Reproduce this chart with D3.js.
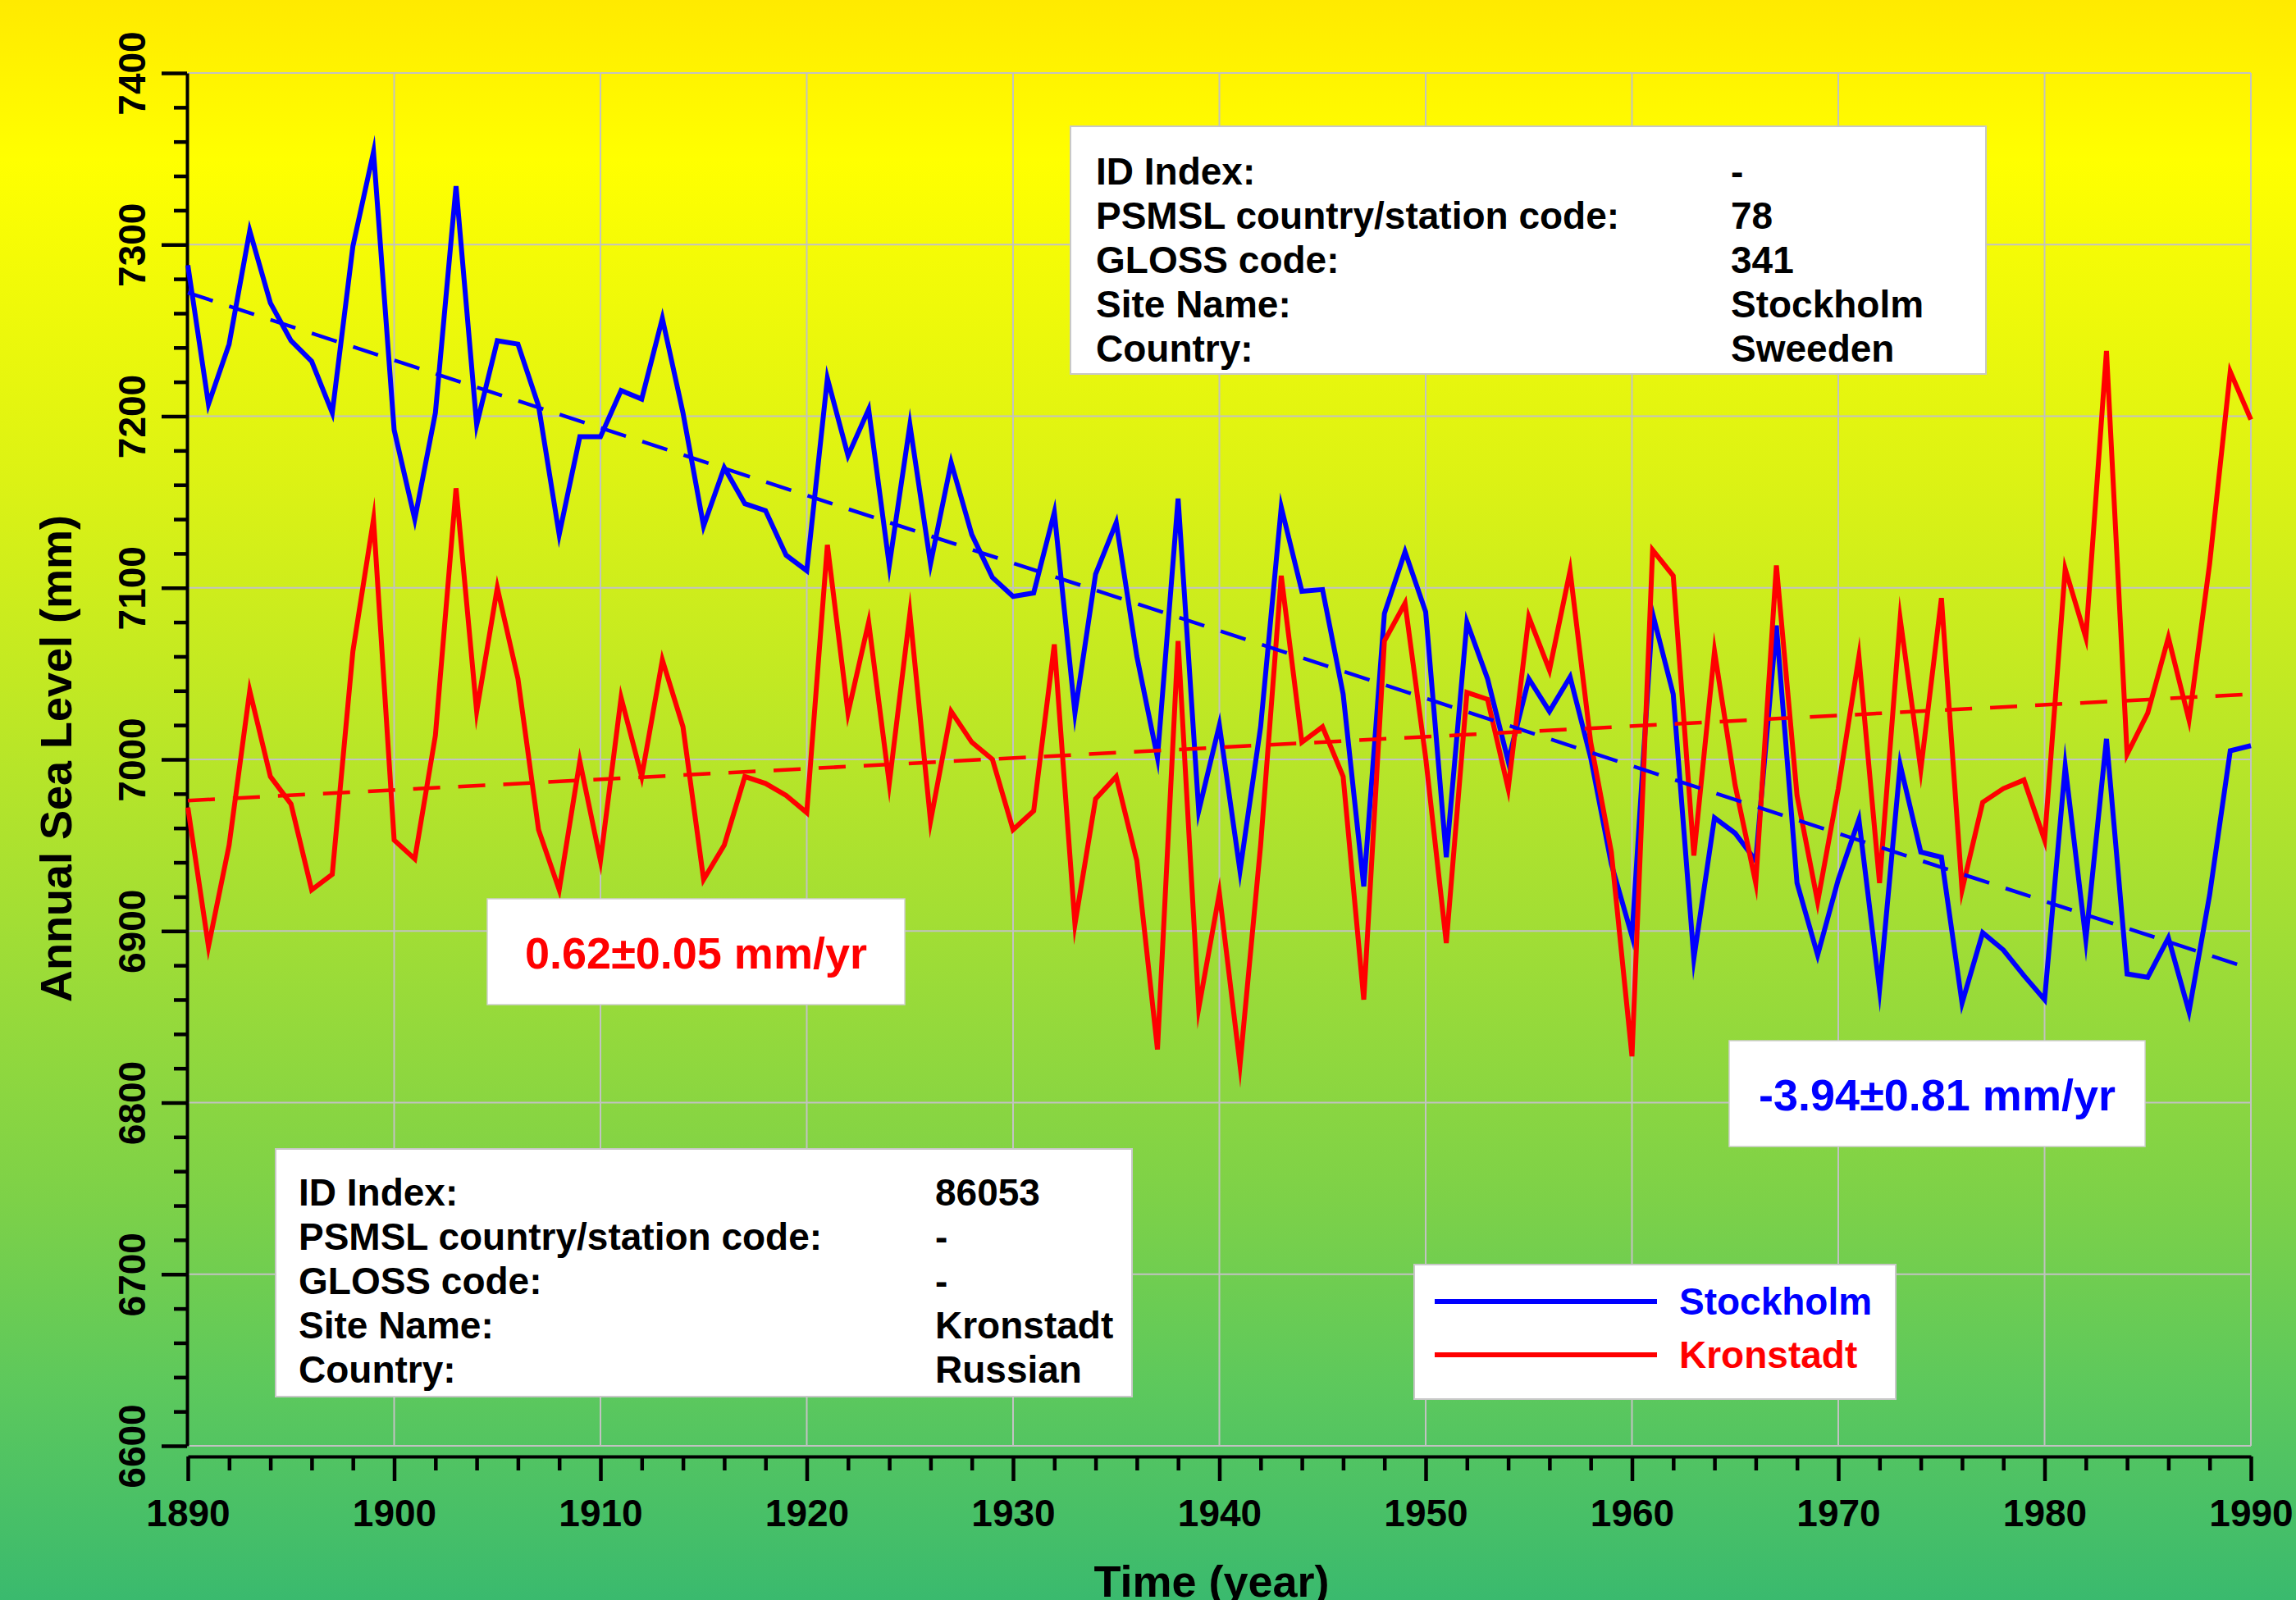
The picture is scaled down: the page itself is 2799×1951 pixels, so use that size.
<!DOCTYPE html>
<html>
<head>
<meta charset="utf-8">
<script src="https://cdn.jsdelivr.net/npm/d3@7"></script>
<style>
  html, body { margin: 0; padding: 0; }
  svg { display: block; font-family: "Liberation Sans", Arial, sans-serif; font-weight: bold; }
</style>
</head>
<body>
<div id="chart"></div>
<script>
// ---- data ----
var years = [
  1890, 1891, 1892, 1893, 1894, 1895, 1896, 1897, 1898, 1899,
  1900, 1901, 1902, 1903, 1904, 1905, 1906, 1907, 1908, 1909,
  1910, 1911, 1912, 1913, 1914, 1915, 1916, 1917, 1918, 1919,
  1920, 1921, 1922, 1923, 1924, 1925, 1926, 1927, 1928, 1929,
  1930, 1931, 1932, 1933, 1934, 1935, 1936, 1937, 1938, 1939,
  1940, 1941, 1942, 1943, 1944, 1945, 1946, 1947, 1948, 1949,
  1950, 1951, 1952, 1953, 1954, 1955, 1956, 1957, 1958, 1959,
  1960, 1961, 1962, 1963, 1964, 1965, 1966, 1967, 1968, 1969,
  1970, 1971, 1972, 1973, 1974, 1975, 1976, 1977, 1978, 1979,
  1980, 1981, 1982, 1983, 1984, 1985, 1986, 1987, 1988, 1989,
  1990
];

var stockholm = [
  7288, 7207, 7242, 7308, 7266, 7244, 7232, 7202, 7299, 7354,
  7192, 7140, 7202, 7334, 7195, 7244, 7242, 7206, 7131, 7188,
  7188, 7215, 7210, 7257, 7202, 7136, 7170, 7149, 7145, 7119,
  7110, 7222, 7177, 7204, 7113, 7195, 7114, 7173, 7131, 7106,
  7095, 7097, 7144, 7027, 7108, 7138, 7060, 7001, 7152, 6970,
  7020, 6935, 7019, 7147, 7098, 7099, 7038, 6926, 7085, 7121,
  7086, 6943, 7080, 7047, 6999, 7047, 7028, 7048, 7001, 6939,
  6897, 7085, 7038, 6884, 6966, 6957, 6941, 7078, 6928, 6886,
  6930, 6965, 6866, 6997, 6946, 6943, 6858, 6899, 6889, 6874,
  6860, 6996, 6895, 7012, 6875, 6873, 6896, 6853, 6921, 7005,
  7008
];

var kronstadt = [
  6972, 6891, 6950, 7040, 6990, 6974, 6924, 6933, 7063, 7140,
  6953, 6942, 7014, 7158, 7028, 7100, 7047, 6959, 6924, 6999,
  6941, 7036, 6990, 7058, 7019, 6930, 6950, 6990, 6986, 6979,
  6969, 7125, 7027, 7080, 6986, 7085, 6964, 7028, 7010, 7000,
  6959, 6970, 7067, 6904, 6977, 6990, 6941, 6831, 7069, 6855,
  6922, 6822, 6950, 7107, 7010, 7019, 6990, 6860, 7069, 7091,
  7001, 6893, 7039, 7035, 6983, 7083, 7052, 7110, 7010, 6946,
  6827, 7122, 7107, 6944, 7063, 6985, 6928, 7113, 6979, 6917,
  6983, 7060, 6928, 7082, 6994, 7094, 6924, 6975, 6983, 6988,
  6953, 7111, 7071, 7238, 7003, 7027, 7071, 7023, 7114, 7226,
  7198
];

// linear trends (start / end of period)
var trendYears = [1890, 1990];
var stockholmTrend = [7272, 6878];
var kronstadtTrend = [6976, 7038];

var xTicks = [1890, 1900, 1910, 1920, 1930, 1940, 1950, 1960, 1970, 1980, 1990];
var yTicks = [6600, 6700, 6800, 6900, 7000, 7100, 7200, 7300, 7400];

var infoLabels = ["ID Index:", "PSMSL country/station code:", "GLOSS code:", "Site Name:", "Country:"];
var stockholmInfo = ["-", "78", "341", "Stockholm", "Sweeden"];
var kronstadtInfo = ["86053", "-", "-", "Kronstadt", "Russian"];

var seriesNames = ["Stockholm", "Kronstadt"];
var kronstadtRate = "0.62\u00b10.05 mm/yr";
var stockholmRate = "-3.94\u00b10.81 mm/yr";

// ---- drawing ----
var W = 2799, H = 1951;
var svg = d3.select("#chart").append("svg")
  .attr("width", W)
  .attr("height", H);

// yellow -> green background
var grad = svg.append("defs").append("linearGradient")
  .attr("id", "bg")
  .attr("x1", 0).attr("y1", 0).attr("x2", 0).attr("y2", 1);
[[0, "#ffea00"], [0.1, "#ffff00"], [0.3, "#dcf214"], [0.55, "#a8e031"],
 [0.75, "#7dd148"], [0.87, "#5cc85d"], [1, "#3aba6e"]].forEach(function(s) {
  grad.append("stop").attr("offset", s[0]).attr("stop-color", s[1]);
});
svg.append("rect").attr("width", W).attr("height", H).attr("fill", "url(#bg)");

var x = d3.scaleLinear().domain([1890, 1990]).range([229, 2744]);
var y = d3.scaleLinear().domain([6600, 7400]).range([1763, 89]);

// grid
var grid = svg.append("g").attr("stroke", "#c2c2c2").attr("stroke-width", 2);
grid.selectAll(".gx").data(xTicks.slice(1)).enter().append("line")
  .attr("x1", function(d) { return x(d); })
  .attr("x2", function(d) { return x(d); })
  .attr("y1", y(6600)).attr("y2", y(7400));
grid.selectAll(".gy").data(yTicks).enter().append("line")
  .attr("x1", x(1890)).attr("x2", x(1990))
  .attr("y1", function(d) { return y(d); })
  .attr("y2", function(d) { return y(d); });

// minor tick values (every 20 mm / every 2 years)
var yMinor = d3.range(6600, 7401, 20).filter(function(v) { return v % 100 != 0; });
var xMinor = d3.range(1890, 1991, 2).filter(function(v) { return v % 10 != 0; });

// y axis
var yAxisG = svg.append("g").attr("transform", "translate(228,0)");
yAxisG.append("g")
  .call(d3.axisLeft(y).tickValues(yMinor).tickSize(16).tickSizeOuter(0).tickFormat(""))
  .call(function(g) { g.select(".domain").remove(); });
yAxisG.append("g")
  .call(d3.axisLeft(y).tickValues(yTicks).tickSize(31).tickSizeOuter(0).tickFormat(d3.format("d")))
  .call(function(g) {
    g.select(".domain").attr("stroke-width", 4);
    g.selectAll("text")
      .attr("transform", "rotate(-90)")
      .attr("x", 0).attr("y", -51).attr("dy", 0)
      .attr("text-anchor", "middle");
  });
yAxisG.selectAll(".tick line").attr("stroke-width", 4.5);

// x axis
var xAxisG = svg.append("g").attr("transform", "translate(0,1776)");
xAxisG.append("g")
  .call(d3.axisBottom(x).tickValues(xMinor).tickSize(17).tickSizeOuter(0).tickFormat(""))
  .call(function(g) { g.select(".domain").remove(); });
xAxisG.append("g")
  .call(d3.axisBottom(x).tickValues(xTicks).tickSize(30).tickSizeOuter(0).tickFormat(d3.format("d")))
  .call(function(g) {
    g.select(".domain").attr("stroke-width", 4);
    g.selectAll("text").attr("y", 85).attr("dy", 0);
  });
xAxisG.selectAll(".tick line").attr("stroke-width", 4.5);

svg.selectAll(".tick text")
  .attr("font-size", 46)
  .attr("font-family", "'Liberation Sans', Arial, sans-serif")
  .attr("font-weight", "bold")
  .attr("fill", "#000");

// axis titles
svg.append("text")
  .attr("transform", "translate(87,925) rotate(-90)")
  .attr("text-anchor", "middle")
  .attr("font-size", 54)
  .text("Annual Sea Level (mm)");
svg.append("text")
  .attr("x", 1477).attr("y", 1947)
  .attr("text-anchor", "middle")
  .attr("font-size", 54)
  .text("Time (year)");

// series lines
var line = d3.line()
  .x(function(d) { return x(d[0]); })
  .y(function(d) { return y(d[1]); });

svg.append("path")
  .datum(d3.zip(years, stockholm))
  .attr("d", line)
  .attr("fill", "none")
  .attr("stroke", "#0000ff")
  .attr("stroke-width", 6)
  .attr("stroke-linejoin", "miter")
  .attr("stroke-miterlimit", 10);

svg.append("path")
  .datum(d3.zip(years, kronstadt))
  .attr("d", line)
  .attr("fill", "none")
  .attr("stroke", "#ff0000")
  .attr("stroke-width", 6)
  .attr("stroke-linejoin", "miter")
  .attr("stroke-miterlimit", 10);

// trend lines
svg.append("path")
  .datum(d3.zip(trendYears, stockholmTrend))
  .attr("d", line)
  .attr("fill", "none")
  .attr("stroke", "#0000ff")
  .attr("stroke-width", 4.5)
  .attr("stroke-dasharray", "32,21");
svg.append("path")
  .datum(d3.zip(trendYears, kronstadtTrend))
  .attr("d", line)
  .attr("fill", "none")
  .attr("stroke", "#ff0000")
  .attr("stroke-width", 4.5)
  .attr("stroke-dasharray", "33,22");

// station info boxes
function infoBox(bx, by, bw, bh, labelX, valueX, firstBase, values) {
  var g = svg.append("g");
  g.append("rect")
    .attr("x", bx).attr("y", by).attr("width", bw).attr("height", bh)
    .attr("fill", "#fff").attr("stroke", "#c8c8c8").attr("stroke-width", 2);
  infoLabels.forEach(function(lbl, i) {
    g.append("text").attr("x", labelX).attr("y", firstBase + i * 54)
      .attr("font-size", 46).text(lbl);
    g.append("text").attr("x", valueX).attr("y", firstBase + i * 54)
      .attr("font-size", 46).text(values[i]);
  });
}
infoBox(1305, 154, 1116, 302, 1336, 2110, 225, stockholmInfo);
infoBox(336, 1401, 1044, 302, 364, 1140, 1470, kronstadtInfo);

// rate boxes
function rateBox(bx, by, bw, bh, base, txt, color, size) {
  svg.append("rect")
    .attr("x", bx).attr("y", by).attr("width", bw).attr("height", bh)
    .attr("fill", "#fff").attr("stroke", "#d0d0d0").attr("stroke-width", 1.5);
  svg.append("text")
    .attr("x", bx + bw / 2).attr("y", base)
    .attr("text-anchor", "middle")
    .attr("font-size", size)
    .attr("fill", color)
    .text(txt);
}
rateBox(594, 1096, 509, 129, 1181, kronstadtRate, "#ff0000", 54);
rateBox(2108, 1269, 507, 129, 1354, stockholmRate, "#0000ff", 54);

// legend
var legend = svg.append("g");
legend.append("rect")
  .attr("x", 1724).attr("y", 1542).attr("width", 587).attr("height", 164)
  .attr("fill", "#fff").attr("stroke", "#c8c8c8").attr("stroke-width", 2);
var legendColors = ["#0000ff", "#ff0000"];
seriesNames.forEach(function(name, i) {
  var ly = 1587 + i * 65;
  legend.append("line")
    .attr("x1", 1749).attr("x2", 2020).attr("y1", ly).attr("y2", ly)
    .attr("stroke", legendColors[i]).attr("stroke-width", 6);
  legend.append("text")
    .attr("x", 2047).attr("y", ly + 16)
    .attr("font-size", 46)
    .attr("fill", legendColors[i])
    .text(name);
});
</script>
</body>
</html>
